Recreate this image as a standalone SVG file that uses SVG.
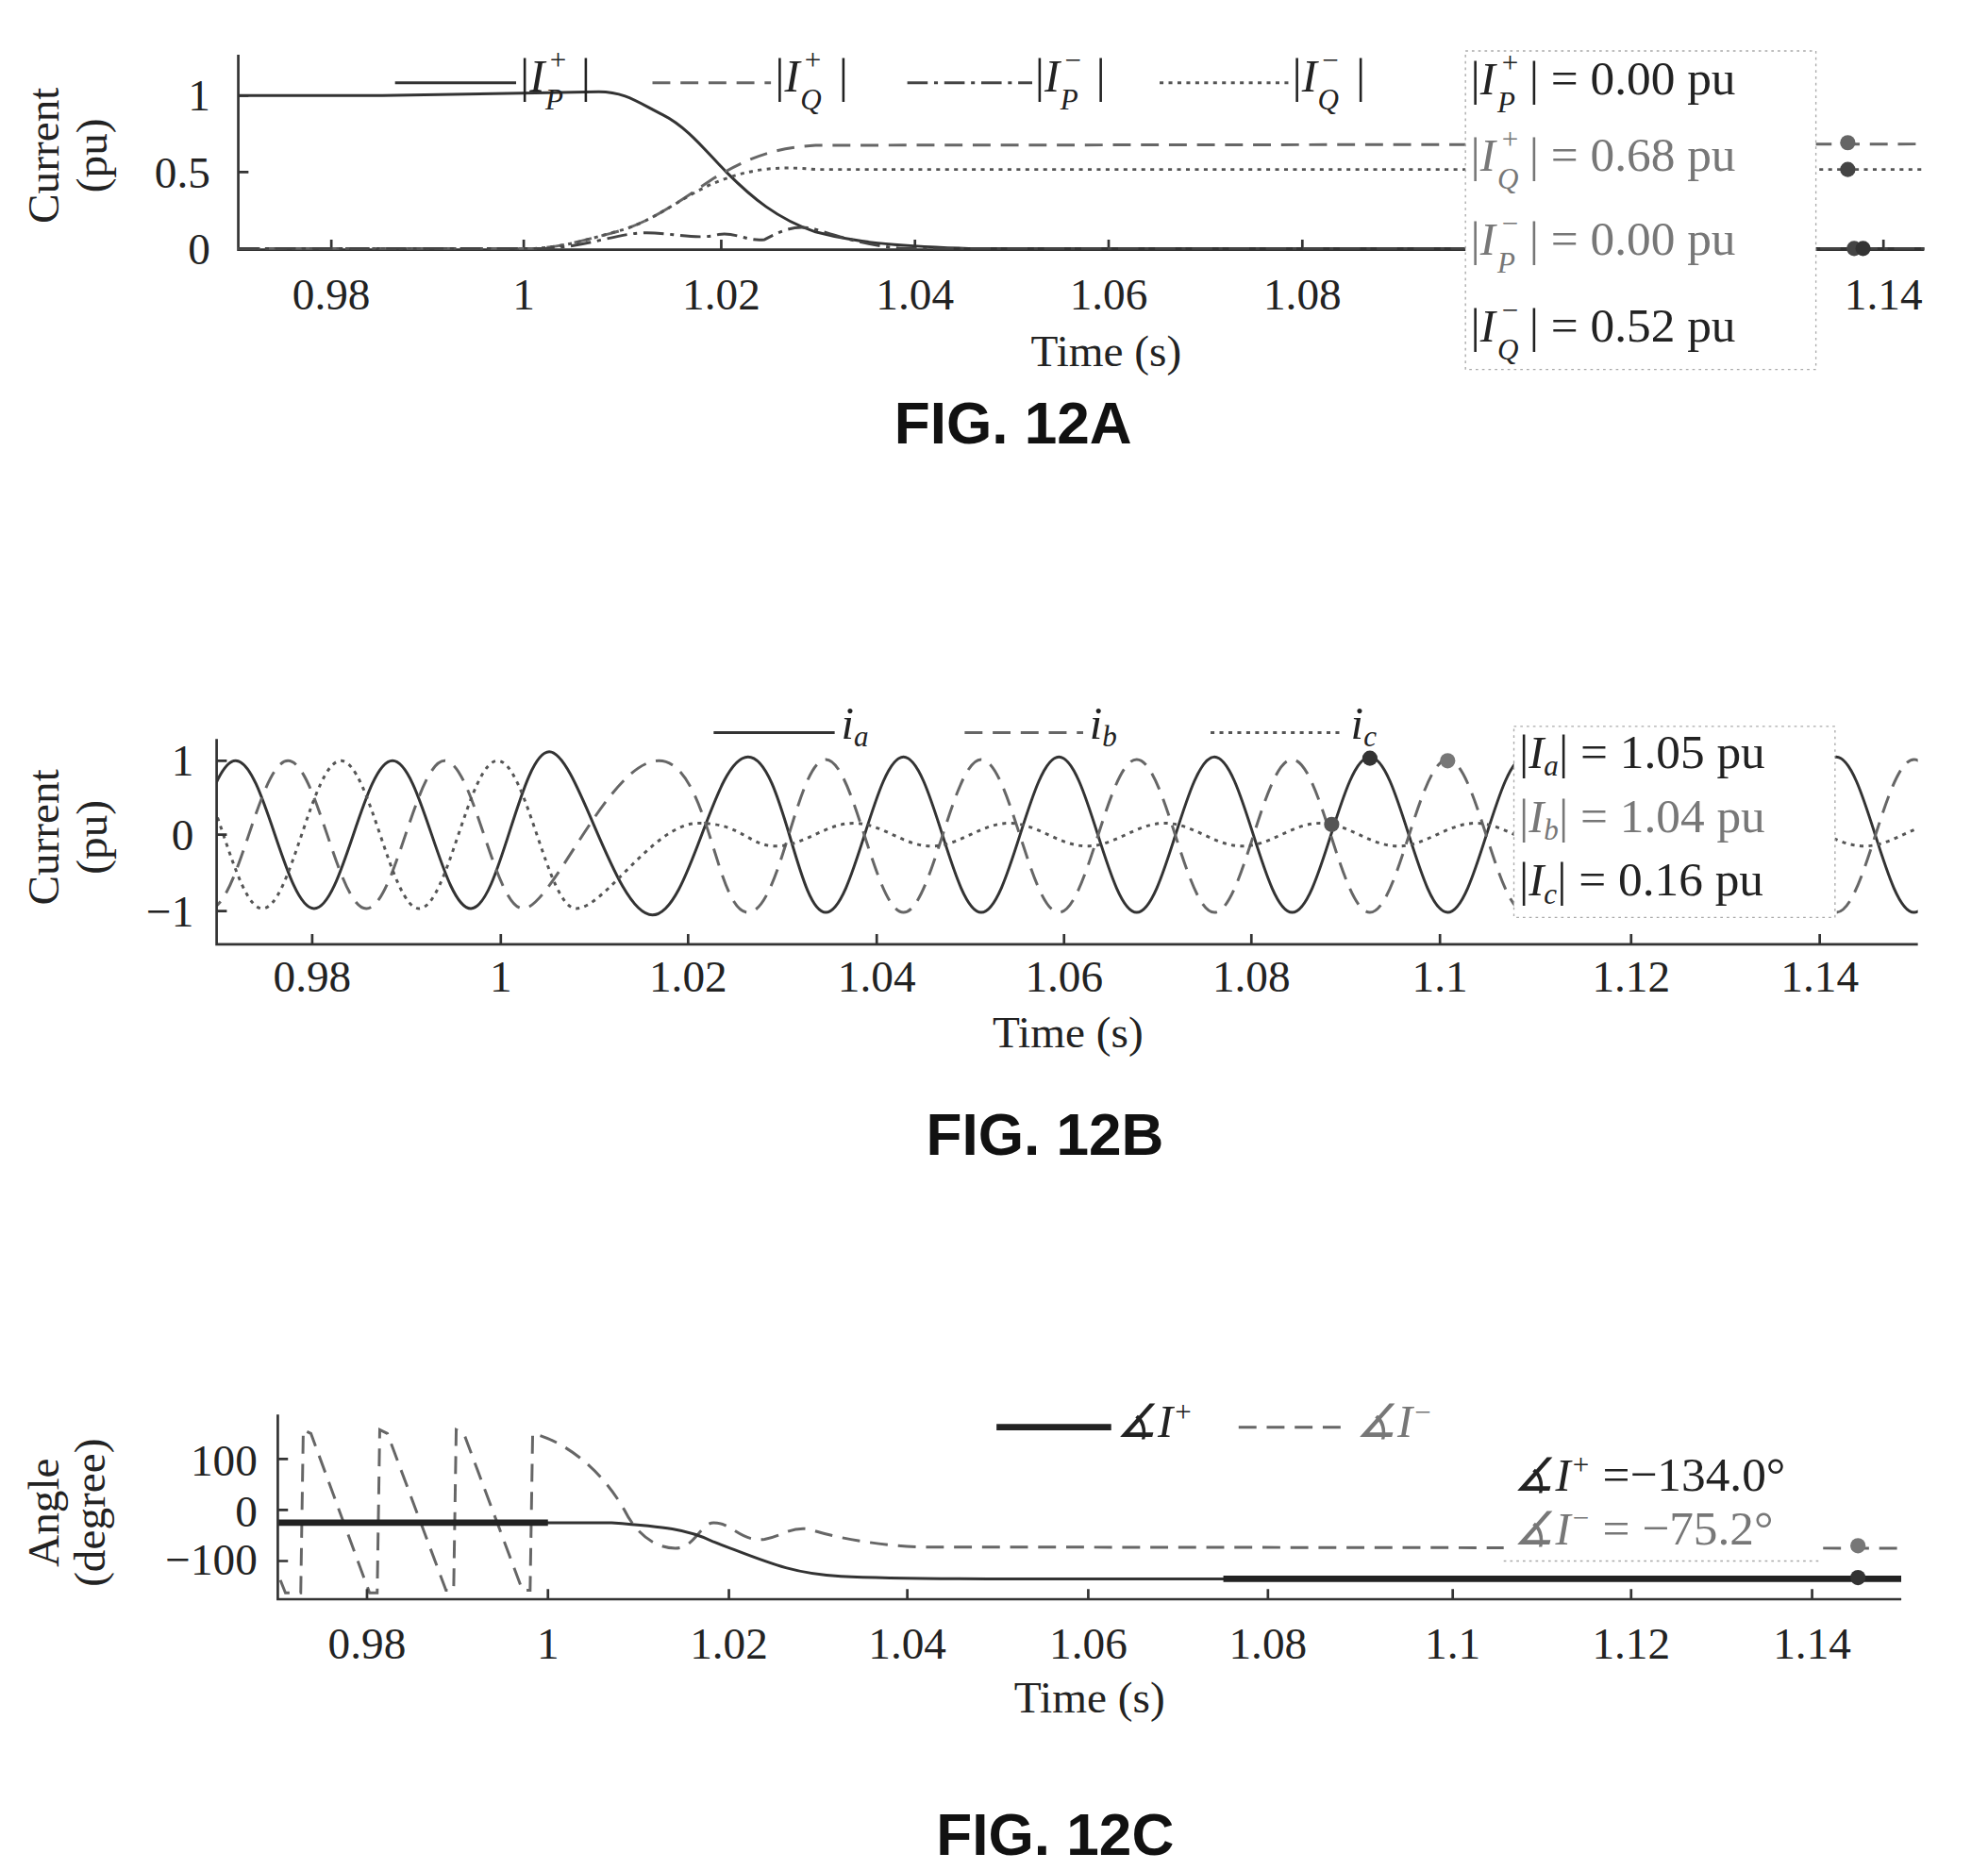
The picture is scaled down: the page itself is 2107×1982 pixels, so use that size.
<svg xmlns="http://www.w3.org/2000/svg" width="2107" height="1982" viewBox="0 0 2107 1982">
<defs>
<style>
.t{font-family:"Liberation Serif",serif;font-size:35px;fill:#222}
.a{font-family:"Liberation Serif",serif;font-size:38px;fill:#222}
.ti{font-family:"Liberation Serif",serif;font-style:italic;font-size:36px;fill:#222}
.sm{font-family:"Liberation Serif",serif;font-style:italic;font-size:23px;fill:#222}
.g{fill:#777}
.fig{font-family:"Liberation Sans",Arial,sans-serif;font-weight:bold;font-size:46px;fill:#111}
.ax{fill:none;stroke:#333;stroke-width:2}
.sol{fill:none;stroke:#333;stroke-width:2.2}
.dash{fill:none;stroke:#666;stroke-width:2.2;stroke-dasharray:14 8}
.dot{fill:none;stroke:#555;stroke-width:2.2;stroke-dasharray:3 4}
.dd{fill:none;stroke:#444;stroke-width:2.2;stroke-dasharray:16 5 3 5}
.box{fill:#fff;stroke:#aaa;stroke-width:1;stroke-dasharray:2 3}
</style>
<clipPath id="cb"><rect x="170" y="560" width="1335" height="185"/></clipPath>
<clipPath id="cc"><rect x="218" y="1110" width="1274" height="145"/></clipPath>
</defs>
<g transform="scale(1.3506)">
<g id="figA">
<path class="ax" d="M187,43 L187,196 L1510,196 M260,196 v-8 M411,196 v-8 M566,196 v-8 M718,196 v-8 M870,196 v-8 M1022,196 v-8 M1478,196 v-8 M187,75 h8 M187,135 h8"/>
<text class="t" x="165" y="87" text-anchor="end">1</text>
<text class="t" x="165" y="147" text-anchor="end">0.5</text>
<text class="t" x="165" y="207" text-anchor="end">0</text>
<text class="t" transform="translate(46,122) rotate(-90)" text-anchor="middle">Current</text>
<text class="t" transform="translate(84,122) rotate(-90)" text-anchor="middle">(pu)</text>
<g class="t" text-anchor="middle">
<text x="260" y="243">0.98</text><text x="411" y="243">1</text><text x="566" y="243">1.02</text><text x="718" y="243">1.04</text><text x="870" y="243">1.06</text><text x="1022" y="243">1.08</text><text x="1478" y="243">1.14</text>
<text x="868" y="287">Time (s)</text>
</g>
<path class="sol" d="M187,75 L300,75 L420,73 L470,72 C490,72 500,80 520,90 C540,100 555,120 570,135 C590,155 610,172 640,182 C670,190 700,193 760,195 L1510,195"/>
<path class="dash" d="M187,195 L420,195 C440,194 460,188 480,183 C510,175 530,160 560,140 C590,122 610,116 640,114 L1510,113"/>
<path class="dot" d="M187,195 L420,195 C450,193 470,185 490,180 C520,170 540,150 570,140 C590,133 610,130 640,133 L1510,133"/>
<path class="dd" d="M187,195 L430,195 C460,193 480,185 500,183 C520,181 540,188 560,185 C575,180 585,190 600,188 C615,180 625,176 640,180 C660,186 680,193 710,195 L1510,195"/>
<rect class="box" x="1150" y="40" width="275" height="250"/>
<text class="a" x="1154" y="74">|<tspan class="ti">I</tspan></text><text class="sm" x="1177" y="57">+</text><text class="sm" x="1175" y="88">P</text><text class="a" x="1200" y="74">|  = 0.00 pu</text>
<text class="a g" x="1154" y="134">|<tspan class="ti g">I</tspan></text><text class="sm g" x="1177" y="117">+</text><text class="sm g" x="1175" y="148">Q</text><text class="a g" x="1200" y="134">|  = 0.68 pu</text>
<text class="a g" x="1154" y="200">|<tspan class="ti g">I</tspan></text><text class="sm g" x="1177" y="183">−</text><text class="sm g" x="1175" y="214">P</text><text class="a g" x="1200" y="200">|  = 0.00 pu</text>
<text class="a" x="1154" y="268">|<tspan class="ti">I</tspan></text><text class="sm" x="1177" y="251">−</text><text class="sm" x="1175" y="282">Q</text><text class="a" x="1200" y="268">|  = 0.52 pu</text>
<circle cx="1450" cy="112" r="6" fill="#666"/><circle cx="1450" cy="133" r="6" fill="#444"/>
<circle cx="1455" cy="195" r="6" fill="#444"/><circle cx="1462" cy="195" r="6" fill="#333"/>
<path class="sol" d="M310,65 h95"/><text class="a" x="408" y="72">|<tspan class="ti">I</tspan></text><text class="sm" x="430" y="55">+</text><text class="sm" x="428" y="86">P</text><text class="a" x="456" y="72">|</text>
<path class="dash" d="M512,65 h93"/><text class="a" x="608" y="72">|<tspan class="ti">I</tspan></text><text class="sm" x="630" y="55">+</text><text class="sm" x="628" y="86">Q</text><text class="a" x="658" y="72">|</text>
<path class="dd" d="M712,65 h98"/><text class="a" x="812" y="72">|<tspan class="ti">I</tspan></text><text class="sm" x="834" y="55">−</text><text class="sm" x="832" y="86">P</text><text class="a" x="860" y="72">|</text>
<path class="dot" d="M910,65 h102"/><text class="a" x="1014" y="72">|<tspan class="ti">I</tspan></text><text class="sm" x="1036" y="55">−</text><text class="sm" x="1034" y="86">Q</text><text class="a" x="1064" y="72">|</text>
<text class="fig" x="795" y="348" text-anchor="middle">FIG. 12A</text>
</g>
<g id="figB">
<g clip-path="url(#cb)">
<path class="sol" d="M123.5,715 C145.9,715 162.7,597 185,597 S224.1,713 246.5,713 S285.7,597 308,597 S347.2,713 369.5,713 S408.7,590 431,590 S482.6,718 512,718 S559.7,594 587,594 S625.8,716 648,716 S686.8,594 709,594 S747.8,716 770,716 S808.8,594 831,594 S869.8,716 892,716 S930.8,594 953,594 S991.8,716 1014,716 S1052.8,594 1075,594 S1113.8,716 1136,716 S1174.8,594 1197,594 S1235.8,716 1258,716 S1296.8,594 1319,594 S1357.8,716 1380,716 S1418.8,594 1441,594 S1479.8,716 1502,716 S1540.8,594 1563,594"/>
<path class="dash" d="M103,597 C125.4,597 142.2,713 164.5,713 S203.7,597 226,597 S265.2,713 287.5,713 S326.7,597 349,597 S388.2,713 410.5,713 S478,597 517,597 S561.6,716 587,716 S625.8,596 648,596 S686.8,716 709,716 S747.8,596 770,596 S808.8,716 831,716 S869.8,596 892,596 S930.8,716 953,716 S991.8,596 1014,596 S1052.8,716 1075,716 S1113.8,596 1136,596 S1174.8,716 1197,716 S1235.8,596 1258,596 S1296.8,716 1319,716 S1357.8,596 1380,596 S1418.8,716 1441,716 S1479.8,596 1502,596 S1540.8,716 1563,716"/>
<path class="dot" d="M83,713 C105.4,713 122.2,597 144.5,597 S183.8,713 206,713 S245.2,597 267.5,597 S306.8,713 329,713 S368.2,597 390.5,597 S429.8,713 452,713 S513.1,646 548,646 S586.8,664 609,664 S647.8,646 670,646 S708.8,664 731,664 S769.8,646 792,646 S830.8,664 853,664 S891.8,646 914,646 S952.8,664 975,664 S1013.8,646 1036,646 S1074.8,664 1097,664 S1135.8,646 1158,646 S1196.8,664 1219,664 S1257.8,646 1280,646 S1318.8,664 1341,664 S1379.8,646 1402,646 S1440.8,664 1463,664 S1501.8,646 1524,646"/>
</g>
<path class="ax" d="M170,580 L170,741 L1505,741 M245,741 v-8 M393,741 v-8 M540,741 v-8 M688,741 v-8 M835,741 v-8 M982,741 v-8 M1130,741 v-8 M1280,741 v-8 M1428,741 v-8 M170,597 h8 M170,655 h8 M170,715 h8"/>
<text class="t" x="152" y="609" text-anchor="end">1</text>
<text class="t" x="152" y="667" text-anchor="end">0</text>
<text class="t" x="152" y="727" text-anchor="end">−1</text>
<text class="t" transform="translate(46,657) rotate(-90)" text-anchor="middle">Current</text>
<text class="t" transform="translate(84,657) rotate(-90)" text-anchor="middle">(pu)</text>
<g class="t" text-anchor="middle">
<text x="245" y="778">0.98</text><text x="393" y="778">1</text><text x="540" y="778">1.02</text><text x="688" y="778">1.04</text><text x="835" y="778">1.06</text><text x="982" y="778">1.08</text><text x="1130" y="778">1.1</text><text x="1280" y="778">1.12</text><text x="1428" y="778">1.14</text>
<text x="838" y="822">Time (s)</text>
</g>
<rect class="box" x="1188" y="570" width="252" height="150"/>
<text class="a" x="1192" y="603">|<tspan class="ti">I<tspan class="sm" dy="6">a</tspan></tspan><tspan dy="-6">| = 1.05 pu</tspan></text>
<text class="a g" x="1192" y="653">|<tspan class="ti g">I<tspan class="sm g" dy="6">b</tspan></tspan><tspan dy="-6">| = 1.04 pu</tspan></text>
<text class="a" x="1192" y="703">|<tspan class="ti">I<tspan class="sm" dy="6">c</tspan></tspan><tspan dy="-6">| = 0.16 pu</tspan></text>
<circle cx="1075" cy="595" r="6" fill="#333"/><circle cx="1045" cy="647" r="6" fill="#555"/><circle cx="1136" cy="597" r="6" fill="#777"/>
<path class="sol" d="M560,575 h95"/><text class="ti" x="660" y="580">i<tspan class="sm" dy="6">a</tspan></text>
<path class="dash" d="M757,575 h93"/><text class="ti" x="855" y="580">i<tspan class="sm" dy="6">b</tspan></text>
<path class="dot" d="M950,575 h105"/><text class="ti" x="1060" y="580">i<tspan class="sm" dy="6">c</tspan></text>
<text class="fig" x="820" y="906" text-anchor="middle">FIG. 12B</text>
</g>
<g id="figC">
<g clip-path="url(#cc)">
<path class="dash" d="M220,1240 L224,1250 L236,1250 L238,1122 L244,1125 L290,1250 L296,1250 L298,1122 L304,1125 L350,1248 L356,1248 L358,1122 L364,1125 L410,1248 L416,1248 L418,1125 C440,1130 470,1150 490,1185 C500,1205 515,1215 530,1215 C545,1215 550,1195 560,1195 C575,1195 580,1210 600,1208 C615,1205 620,1198 635,1200 C650,1205 680,1212 720,1214 L1492,1215"/>
<path class="sol" d="M218,1195 L480,1195 C520,1198 540,1200 560,1210 C600,1225 620,1235 660,1237 C700,1239 750,1239 800,1239 L1492,1239"/>
<path d="M218,1195 L430,1195 M960,1239 L1492,1239" stroke="#222" stroke-width="5" fill="none"/>
</g>
<path class="ax" d="M218,1110 L218,1255 L1492,1255 M288,1255 v-8 M430,1255 v-8 M572,1255 v-8 M712,1255 v-8 M854,1255 v-8 M995,1255 v-8 M1140,1255 v-8 M1280,1255 v-8 M1422,1255 v-8 M218,1145 h8 M218,1185 h8 M218,1225 h8"/>
<text class="t" x="202" y="1158" text-anchor="end">100</text>
<text class="t" x="202" y="1198" text-anchor="end">0</text>
<text class="t" x="202" y="1236" text-anchor="end">−100</text>
<text class="t" transform="translate(46,1187) rotate(-90)" text-anchor="middle">Angle</text>
<text class="t" transform="translate(82,1187) rotate(-90)" text-anchor="middle">(degree)</text>
<g class="t" text-anchor="middle">
<text x="288" y="1302">0.98</text><text x="430" y="1302">1</text><text x="572" y="1302">1.02</text><text x="712" y="1302">1.04</text><text x="854" y="1302">1.06</text><text x="995" y="1302">1.08</text><text x="1140" y="1302">1.1</text><text x="1280" y="1302">1.12</text><text x="1422" y="1302">1.14</text>
<text x="855" y="1344">Time (s)</text>
</g>
<rect x="1180" y="1140" width="250" height="85" fill="#fff"/>
<path d="M1180,1225 h250" stroke="#aaa" stroke-dasharray="2 3"/>
<text class="a" x="1188" y="1170"><tspan class="ti">∡I</tspan><tspan class="sm" dy="-13">+</tspan><tspan dy="13"> =−134.0°</tspan></text>
<text class="a g" x="1188" y="1212"><tspan class="ti g">∡I</tspan><tspan class="sm g" dy="-13">−</tspan><tspan dy="13"> = −75.2°</tspan></text>
<circle cx="1458" cy="1213" r="6" fill="#777"/><circle cx="1458" cy="1238" r="6" fill="#333"/>
<path d="M782,1120 h90" stroke="#222" stroke-width="5"/><text class="ti" x="876" y="1128">∡I<tspan class="sm" dy="-12">+</tspan></text>
<path class="dash" d="M972,1120 h88"/><text class="ti g" x="1064" y="1128">∡I<tspan class="sm g" dy="-12">−</tspan></text>
<text class="fig" x="828" y="1456" text-anchor="middle">FIG. 12C</text>
</g>
</g>
</svg>
